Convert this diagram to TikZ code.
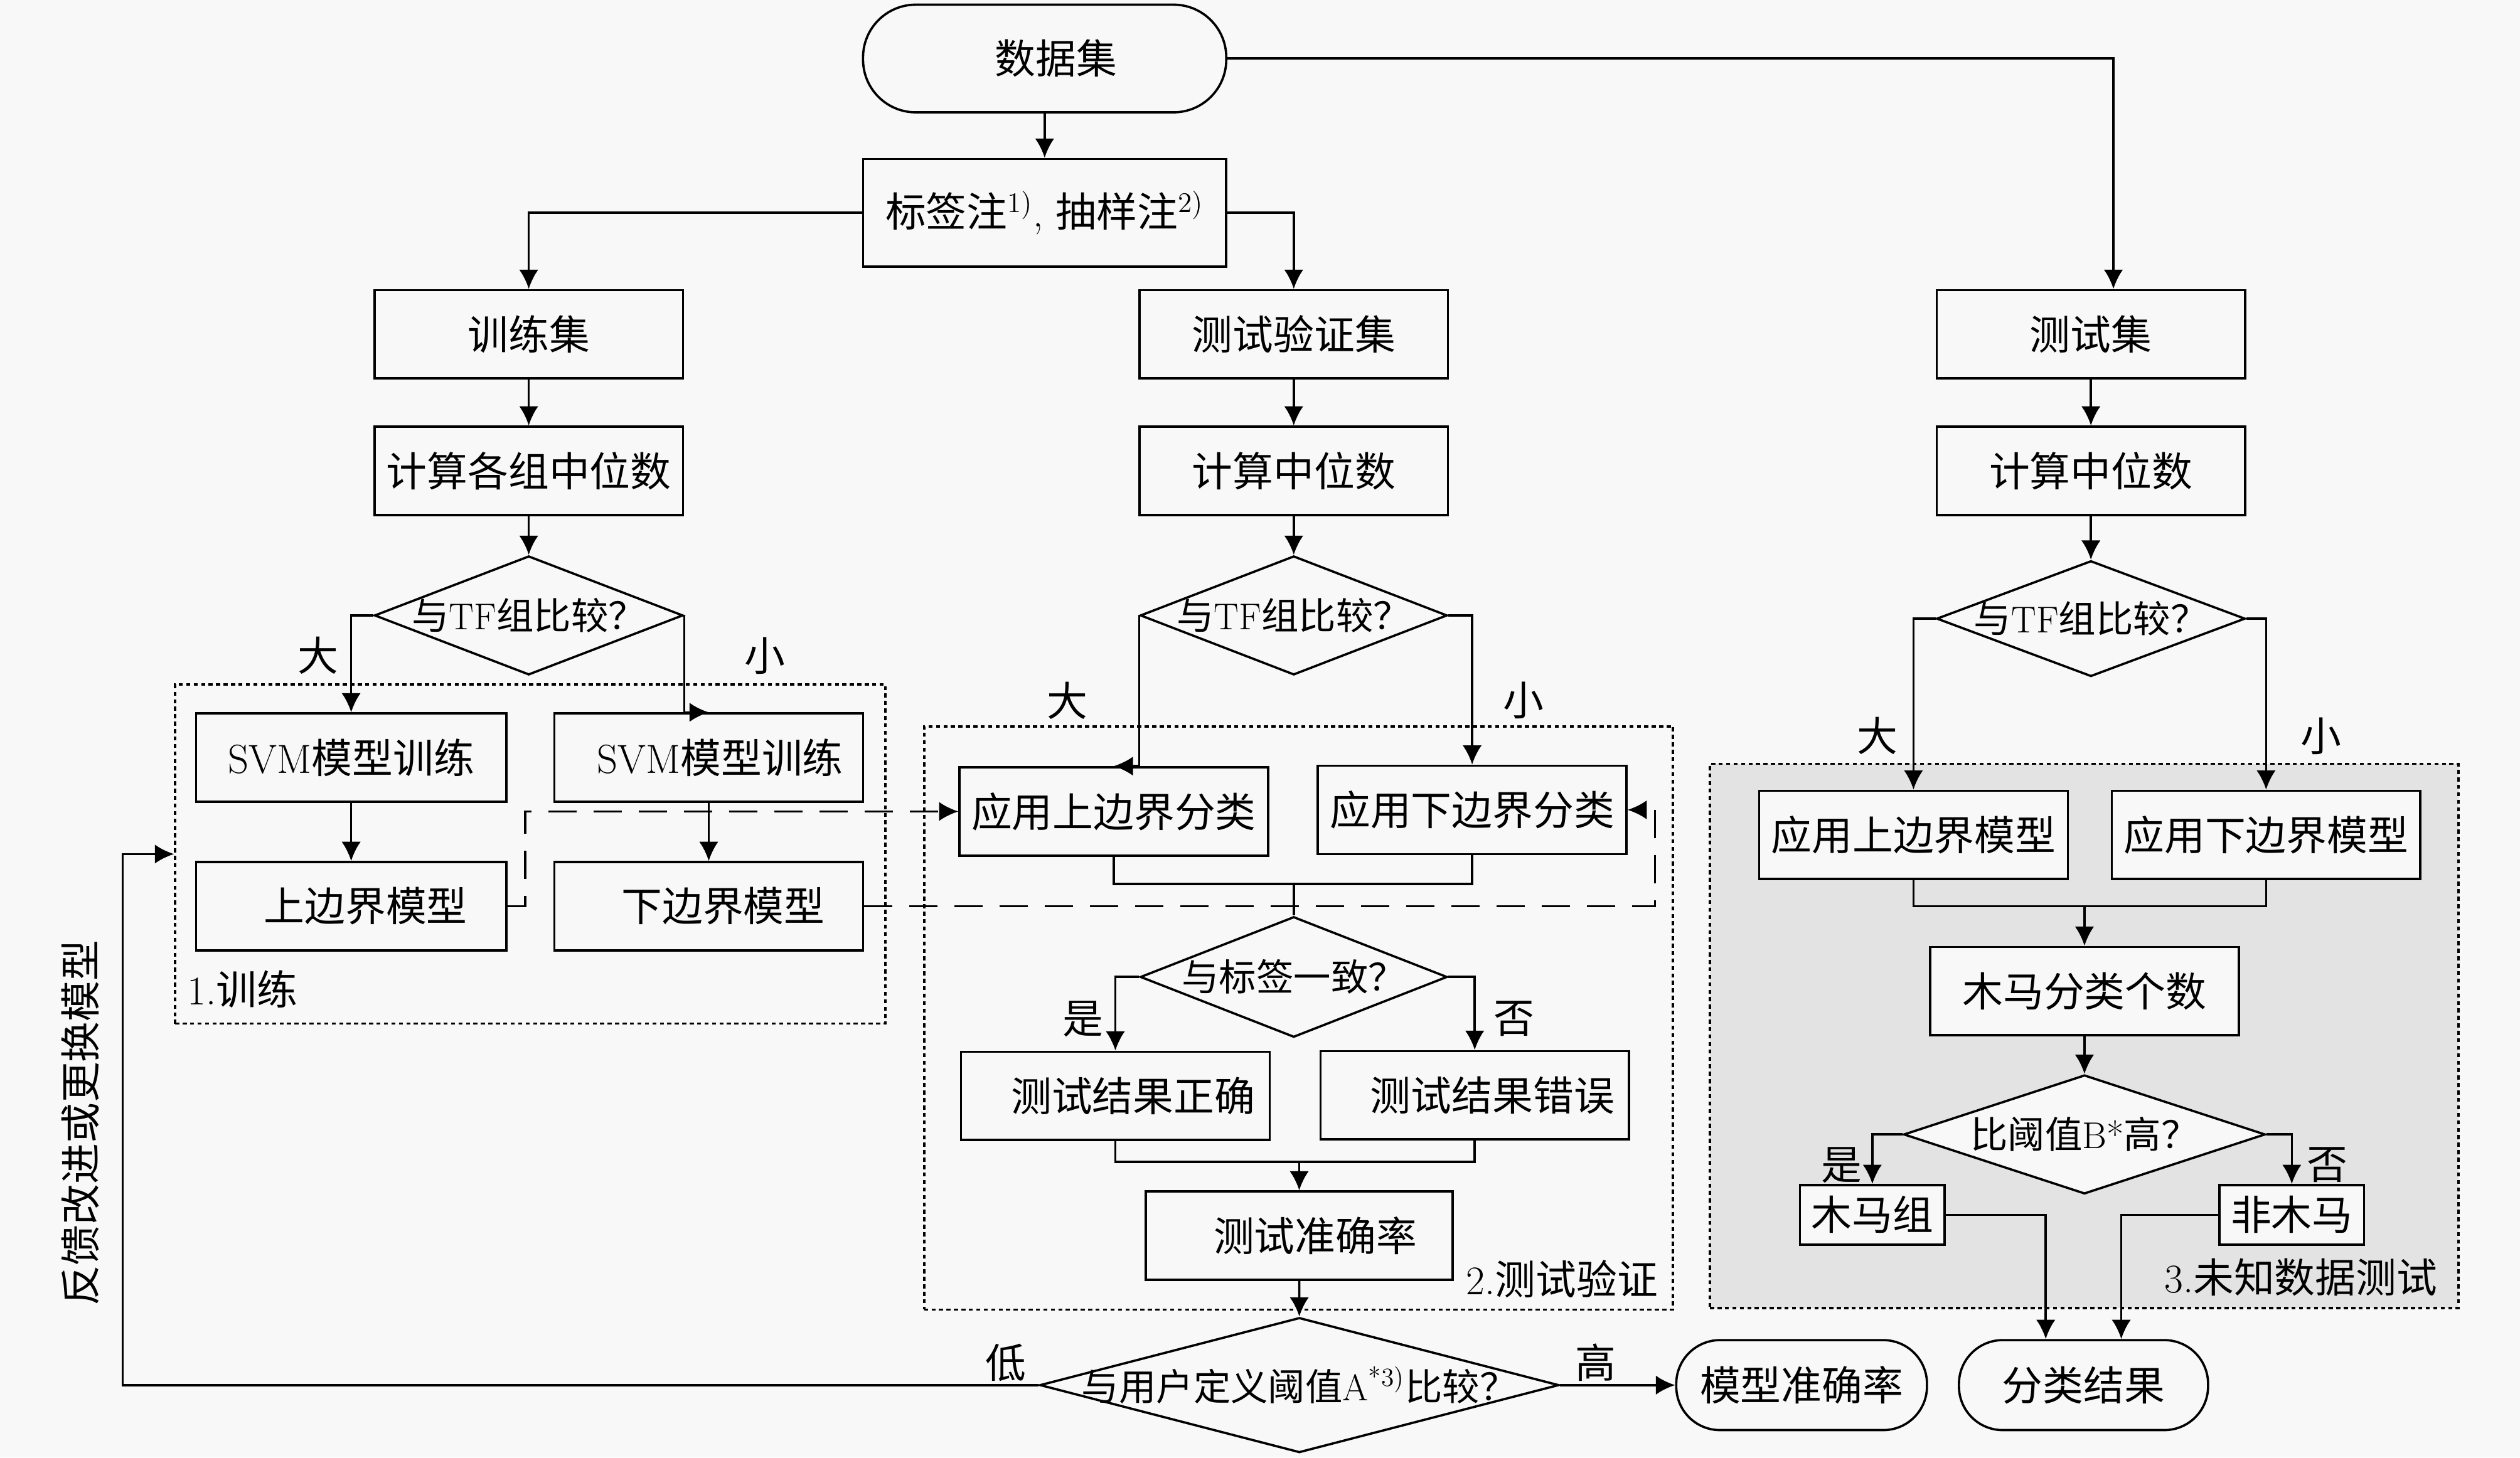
\documentclass[tikz,border=0pt]{standalone}
\usepackage{fontspec}
\newfontfamily\cjk{Noto Sans CJK SC}
\usepackage{tikz}
\usetikzlibrary{arrows.meta,
  shapes.geometric
}
\definecolor{paper}{HTML}{F8F8F8}
\definecolor{shade}{HTML}{E3E3E3}
\tikzset{>={Latex[length=8.5pt,width=8.5pt]},
  every node/.style={font=\fontsize{18}{22}\selectfont},
  box/.style={draw,line width=1pt,fill=paper,inner sep=0pt,
    minimum width=4.8cm,minimum height=1.375cm},
  term/.style={box,rounded corners=0.68cm},
  dia/.style={draw,diamond,line width=1pt,fill=paper,inner sep=0pt,
    minimum width=4.8cm,minimum height=1.85cm,
    font=\fontsize{16.5}{20}\selectfont},
  group/.style={draw,line width=1pt,dash pattern=on 1.8pt off 1.5pt,inner sep=0pt},
  tag/.style={inner sep=0pt},
  link/.style={->,line width=1pt},
  modellink/.style={->,line width=1pt,dash pattern=on 12.5pt off 7.5pt}
}

\begin{document}
\begin{tikzpicture}
  \fill[paper] (0,0) rectangle (39.2,-22.675);
  \useasboundingbox (0,0) rectangle (39.2,-22.675);
  % groups
  \node[group,minimum width=11.05cm,minimum height=5.275cm] (g1) at (8.25,-13.2875) {};
  \node[group,minimum width=11.65cm,minimum height=9.075cm] (g2) at (20.2,-15.8375) {};
  \node[group,fill=shade,minimum width=11.64cm,minimum height=8.465cm] (g3) at (32.42,-16.1175) {};
  \node[tag] (g1name) at (3.775,-15.39) {1.{\cjk 训练}};
  \node[tag] (g2name) at (24.3,-19.9) {2.{\cjk 测试验证}};
  \node[tag] (g3name) at (35.79,-19.875) {3.{\cjk 未知数据测试}};

  % top
  \node[term,minimum width=5.65cm,minimum height=1.675cm,rounded corners=0.82cm] (ds) at (16.25,-0.91)
  {\hspace*{0.35cm}{\cjk 数据集}};
  \node[box,minimum width=5.65cm,minimum height=1.675cm] (lab) at (16.25,-3.31)
  {{\cjk 标签注}\textsuperscript{1)}, {\cjk 抽样注}\textsuperscript{2)}};

  % training
  \node[box] (train) at (8.225,-5.2) {\cjk 训练集};
  \node[box] (med1) at (8.225,-7.325) {\cjk 计算各组中位数};
  \node[dia] (d1) at (8.225,-9.575) {\makebox[0pt]{{\cjk 与}TF{\cjk 组比较？}}};
  \node[box,minimum width=4.825cm] (svm1) at (5.4625,-11.7875) {SVM{\cjk 模型训练}};
  \node[box] (svm2) at (11.025,-11.7875) {\hspace*{0.35cm}SVM{\cjk 模型训练}};
  \node[box,minimum width=4.825cm] (up1) at (5.4625,-14.1) {\hspace*{0.45cm}{\cjk 上边界模型}};
  \node[box] (lo1) at (11.025,-14.1) {\hspace*{0.45cm}{\cjk 下边界模型}};
  \node[tag] (big1) at (4.95,-10.2) {\cjk 大};
  \node[tag] (small1) at (11.9,-10.2) {\cjk 小};

  % validation
  \node[box] (val) at (20.125,-5.2) {\cjk 测试验证集};
  \node[box] (med2) at (20.125,-7.325) {\cjk 计算中位数};
  \node[dia,minimum width=4.775cm] (d2) at (20.125,-9.575) {\makebox[0pt]{{\cjk 与}TF{\cjk 组比较？}}};
  \node[box] (app1) at (17.325,-12.625) {\cjk 应用上边界分类};
  \node[box] (app2) at (22.9,-12.6) {\cjk 应用下边界分类};
  \node[dia,minimum width=4.775cm,minimum height=1.875cm] (d4) at (20.125,-15.2)
  {\makebox[0pt]{\cjk 与标签一致？}};
  \node[box] (ok) at (17.35,-17.05) {\hspace*{0.55cm}{\cjk 测试结果正确}};
  \node[box] (err) at (22.94,-17.04) {\hspace*{0.55cm}{\cjk 测试结果错误}};
  \node[box,minimum width=4.775cm] (acc) at (20.21,-19.225) {\hspace*{0.5cm}{\cjk 测试准确率}};
  \node[dia,minimum width=8.075cm,minimum height=2.1cm] (d5) at (20.2125,-21.55)
  {\makebox[0pt]{{\cjk 与用户定义阈值}A\textsuperscript{*3)}{\cjk 比较？}}};
  \node[term,minimum width=3.9cm,minimum height=1.4cm] (macc) at (28.025,-21.55) {\cjk 模型准确率};
  \node[tag] (big2) at (16.6,-10.9) {\cjk 大};
  \node[tag] (small2) at (23.7,-10.9) {\cjk 小};
  \node[tag] (yes1) at (16.85,-15.85) {\cjk 是};
  \node[tag] (no1) at (23.55,-15.85) {\cjk 否};
  \node[tag] (low) at (15.65,-21.2) {\cjk 低};
  \node[tag] (high) at (24.825,-21.2) {\cjk 高};
  \node[tag,rotate=90] (fbtext) at (1.25,-17.475) {\cjk 反馈改进或更换模型};

  % unknown data
  \node[box] (ts) at (32.525,-5.2) {\cjk 测试集};
  \node[box] (med3) at (32.525,-7.325) {\cjk 计算中位数};
  \node[dia,minimum height=1.8cm] (d3) at (32.525,-9.625) {\makebox[0pt]{{\cjk 与}TF{\cjk 组比较？}}};
  \node[box] (m1) at (29.765,-12.99) {\cjk 应用上边界模型};
  \node[box] (m2) at (35.25,-12.99) {\cjk 应用下边界模型};
  \node[box] (cnt) at (32.425,-15.42) {\cjk 木马分类个数};
  \node[dia,minimum width=5.625cm] (d6) at (32.425,-17.65) {\makebox[0pt]{{\cjk 比阈值}B*{\cjk 高？}}};
  \node[box,minimum width=2.25cm,minimum height=0.925cm] (tj) at (29.125,-18.9) {\cjk 木马组};
  \node[box,minimum width=2.25cm,minimum height=0.925cm] (nt) at (35.65,-18.9) {\cjk 非木马};
  \node[term,minimum width=3.875cm,minimum height=1.4cm] (res) at (32.41,-21.55) {\cjk 分类结果};
  \node[tag] (big3) at (29.2,-11.45) {\cjk 大};
  \node[tag] (small3) at (36.1,-11.45) {\cjk 小};
  \node[tag] (yes2) at (28.65,-18.125) {\cjk 是};
  \node[tag] (no2) at (36.2,-18.125) {\cjk 否};

  \coordinate (j1) at (20.125,-13.75);
  \coordinate (j2) at (20.21,-18.075);
  \coordinate (j3) at (32.425,-14.1);

  % connectors
  \draw[link] (ds) -- (lab);
  \draw[link] (ds.east) -| ([xshift=0.35cm]ts.north);
  \draw[link] (lab.west) -| (train.north);
  \draw[link] (lab.east) -| (val.north);
  \draw[link] (train) -- (med1);
  \draw[link] (med1) -- (d1);
  \draw[link] (val) -- (med2);
  \draw[link] (med2) -- (d2);
  \draw[link] (ts) -- (med3);
  \draw[link] (med3) -- (d3);
  \draw[link] (d1.west) -| (svm1.north);
  \draw[link] (d1.east) |- (svm2.north);
  \draw[link] (svm1) -- (up1);
  \draw[link] (svm2) -- (lo1);
  \draw[link] (d2.west) |- (app1.north);
  \draw[link] (d2.east) -| (app2.north);
  \draw[link] (d3.west) -| (m1.north);
  \draw[link] (d3.east) -| (m2.north);
  \draw[modellink] (up1.east) -- ++(0.275,0) |- (app1.west);
  \draw[modellink] (lo1.east) -| ([xshift=0.425cm]app2.east) -- (app2.east);
  \draw[line width=1pt] (app1.south) |- (j1) -| (app2.south);
  \draw[line width=1pt] (j1) -- (d4.north);
  \draw[link] (d4.west) -| (ok.north);
  \draw[link] (d4.east) -| (err.north);
  \draw[line width=1pt] (ok.south) |- (j2) -| (err.south);
  \draw[link] (j2) -- (acc.north);
  \draw[link] (acc) -- (d5);
  \draw[link] (d5.west) -| ([xshift=-0.8cm]g1.west) -- (g1.west);
  \draw[link] (d5.east) -- (macc.west);
  \draw[line width=1pt] (m1.south) |- (j3) -| (m2.south);
  \draw[link] (j3) -- (cnt.north);
  \draw[link] (cnt) -- (d6);
  \draw[link] (d6.west) -| (tj.north);
  \draw[link] (d6.east) -| (nt.north);
  \draw[link] (tj.east) -| ([xshift=-0.5875cm]res.north);
  \draw[link] (nt.west) -| ([xshift=0.5875cm]res.north);
\end{tikzpicture}
\end{document}
